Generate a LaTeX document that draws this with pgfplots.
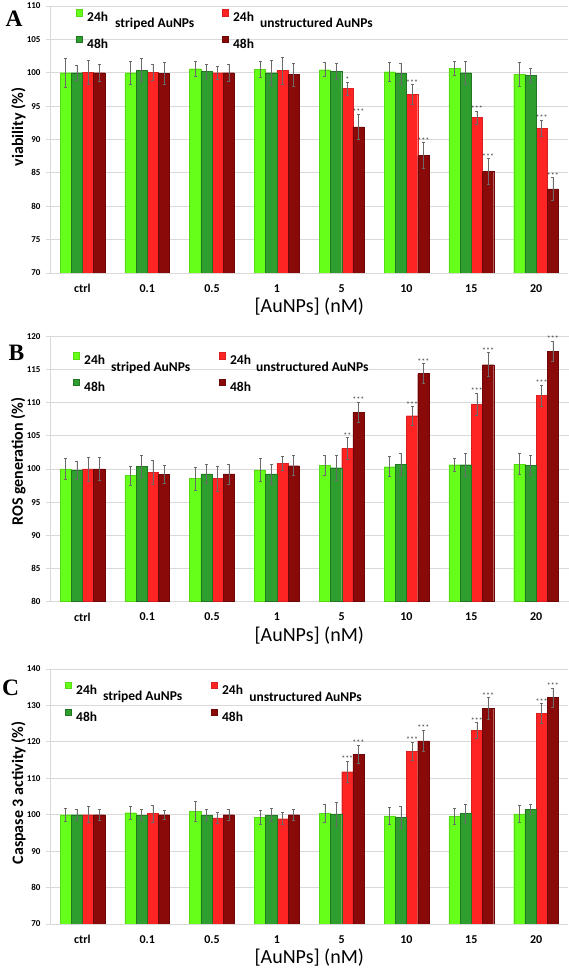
\documentclass[border=0pt]{standalone}
\usepackage{pgfplots}
\pgfplotsset{compat=1.18}
\usepackage{pgfplotstable}
\usepackage{fontspec}
\setmainfont{Carlito}
\newfontfamily\letterfont{Liberation Serif}
\definecolor{lg}{HTML}{66FF1A}
\definecolor{dg}{HTML}{2E9E2E}
\definecolor{rr}{HTML}{FF2424}
\definecolor{dr}{HTML}{8A0A0A}
\definecolor{gridc}{HTML}{D9D9D9}
\definecolor{errc}{HTML}{6A6A6A}
\definecolor{starc}{HTML}{404040}

% c: category; a: striped 24h; b: striped 48h; r: unstructured 24h; d: unstructured 48h
\pgfplotstableread{
c a ae b be r re d de
0 100.0 2.2 100.0 1.1 100.05 1.8 100.0 1.3
1 100.0 1.7 100.4 1.7 100.1 1.2 99.9 1.6
2 100.6 1.1 100.2 1.1 100.0 1.0 100.0 1.2
3 100.5 1.2 100.0 1.9 100.35 2.0 99.75 1.7
4 100.45 1.05 100.2 1.25 97.65 0.95 91.9 1.9
5 100.15 1.35 99.9 1.55 96.75 1.5 87.6 1.95
6 100.65 1.0 100.0 1.75 93.3 1.0 85.2 1.95
7 99.75 1.75 99.6 1.0 91.7 1.2 82.6 1.75
}\dataA
\pgfplotstableread{
c rt rs dt ds
4 98.6 * 93.8 ***
5 98.25 *** 89.55 ***
6 94.3 *** 87.15 ***
7 92.9 *** 84.35 ***
}\starsA

\pgfplotstableread{
c a ae b be r re d de
0 100.0 1.6 99.85 1.35 100.0 1.8 100.0 1.75
1 99.0 1.45 100.4 1.65 99.45 1.8 99.2 1.3
2 98.55 1.75 99.25 1.45 98.55 1.9 99.25 1.5
3 99.85 1.7 99.25 1.5 100.85 1.1 100.5 1.5
4 100.55 1.55 100.2 1.85 103.1 1.65 108.55 1.55
5 100.35 1.5 100.7 1.65 108.05 1.4 114.4 1.5
6 100.65 1.0 100.65 1.8 109.8 1.7 115.75 1.8
7 100.75 1.6 100.55 1.5 111.1 1.6 117.75 1.55
}\dataB
\pgfplotstableread{
c rt rs dt ds
4 104.75 ** 110.1 ***
5 109.45 *** 115.9 ***
6 111.5 *** 117.55 ***
7 112.7 *** 119.3 ***
}\starsB

\pgfplotstableread{
c a ae b be r re d de
0 100.0 1.75 100.0 1.5 100.0 2.2 100.0 1.5
1 100.55 1.85 99.9 1.5 100.3 2.3 100.0 1.3
2 100.9 2.75 99.9 1.55 99.1 1.45 100.0 1.45
3 99.2 1.9 99.9 1.75 98.9 1.65 100.0 1.45
4 100.35 2.4 100.2 3.3 111.8 3.0 116.65 2.5
5 99.7 2.3 99.35 3.1 117.45 2.55 120.3 2.95
6 99.7 2.2 100.35 2.4 123.15 2.2 129.2 3.0
7 100.2 2.4 101.45 1.45 127.8 2.75 132.2 2.65
}\dataC
\pgfplotstableread{
c rt rs dt ds
4 114.8 *** 119.15 ***
5 120.0 *** 123.25 ***
6 125.35 *** 132.2 ***
7 130.55 *** 134.85 ***
}\starsC

\tikzset{
  lbl/.style={anchor=west, inner sep=0pt, text height=9pt, text depth=0pt, font=\bfseries\fontsize{13.5}{15}\selectfont},
  letter/.style={anchor=center, inner sep=0pt, font=\letterfont\bfseries\fontsize{23.5}{24}\selectfont},
}
\pgfplotsset{
  sqleg/.style={legend image code/.code={\draw[##1] (0pt,1.2pt) rectangle (6.4pt,7.6pt);}},
  errbar/.style={
    /pgfplots/error bars/y dir=both,
    /pgfplots/error bars/y explicit,
    /pgfplots/error bars/error bar style={errc, line width=0.5pt},
    /pgfplots/error bars/error mark options={rotate=90, mark size=1.5pt, errc, line width=0.5pt}},
  bars/.style={ybar, bar width=11.2pt, bar shift=0pt, line width=0.3pt},
  starplot/.style={only marks, mark=none, forget plot,
    nodes near coords, point meta=explicit symbolic,
    every node near coord/.append style={anchor=south, font=\fontsize{8}{8}\selectfont, text=starc, inner sep=0pt, yshift=-1pt}},
  panel/.style={
    scale only axis, width=518.5pt, xmin=-0.5, xmax=7.5,
    xtick={0,...,7}, xticklabels={ctrl,0.1,0.5,1,5,10,15,20},
    axis lines*=left, axis line style={gridc, line width=0.8pt},
    ymajorgrids, grid style={gridc, line width=0.8pt},
    x tick style={draw=none},
    y tick style={gridc, line width=0.8pt},
    tick align=outside, major tick length=4pt,
    /pgf/number format/assume math mode=true,
    yticklabel style={font=\bfseries\fontsize{9}{10}\selectfont, xshift=-2pt},
    xticklabel style={font=\bfseries\fontsize{12}{14}\selectfont, yshift=-4pt},
    xlabel={[AuNPs] (nM)},
    x label style={at={(axis description cs:0.5,0)}, anchor=center, yshift=-34pt, font=\fontsize{20}{22}\selectfont},
    y label style={anchor=center, font=\bfseries\fontsize{16}{18}\selectfont},
    legend columns=2, legend cell align=left,
    legend style={anchor=north west, draw=none, fill=none, inner sep=0pt, outer sep=0pt,
      row sep=14.5pt,
      nodes={inner sep=0pt, text height=9pt, text depth=0pt, font=\bfseries\fontsize{13.5}{15}\selectfont},
      /tikz/every odd column/.append style={column sep=4.7pt},
      /tikz/every even column/.append style={column sep=113.6pt}},
  },
}
% bar offsets in category units: 16.8pt and 5.6pt of a 64.81pt category slot
\def\oa{-0.2592}\def\ob{-0.0864}\def\orr{0.0864}\def\od{0.2592}

\begin{document}
\begin{tikzpicture}
\useasboundingbox (0pt,0pt) rectangle (569pt,972pt);

% ---------- Panel A ----------
\begin{axis}[panel, at={(50pt,699pt)}, anchor=south west, height=267pt,
  ymin=70, ymax=110, ytick={70,75,...,110},
  ylabel={viability (\%)}, y label style={at={(axis description cs:-0.061,0.547)}},
  legend style={at={(axis description cs:0.0498,0.9875)}}]
\addplot[bars, fill=lg, draw=lg!85!black, sqleg, errbar] table[x expr=\thisrow{c}+\oa, y=a, y error=ae]{\dataA};
\addplot[bars, fill=rr, draw=rr!85!black, sqleg, errbar] table[x expr=\thisrow{c}+\orr, y=r, y error=re]{\dataA};
\addplot[bars, fill=dg, draw=dg!75!black, sqleg, errbar] table[x expr=\thisrow{c}+\ob, y=b, y error=be]{\dataA};
\addplot[bars, fill=dr, draw=dr!80!black, sqleg, errbar] table[x expr=\thisrow{c}+\od, y=d, y error=de]{\dataA};
\addplot[starplot] table[x expr=\thisrow{c}+\orr, y=rt, meta=rs]{\starsA};
\addplot[starplot] table[x expr=\thisrow{c}+\od, y=dt, meta=ds]{\starsA};
\legend{24h,24h,48h,48h}
\node[lbl] at (axis description cs:0.1254,0.937) {striped AuNPs};
\node[lbl] at (axis description cs:0.405,0.9345) {unstructured AuNPs};
\end{axis}

% ---------- Panel B ----------
\begin{axis}[panel, at={(50pt,370.5pt)}, anchor=south west, height=265pt,
  ymin=80, ymax=120, ytick={80,85,...,120},
  ylabel={ROS generation (\%)}, y label style={at={(axis description cs:-0.061,0.528)}},
  legend style={at={(axis description cs:0.044,0.941)}}]
\addplot[bars, fill=lg, draw=lg!85!black, sqleg, errbar] table[x expr=\thisrow{c}+\oa, y=a, y error=ae]{\dataB};
\addplot[bars, fill=rr, draw=rr!85!black, sqleg, errbar] table[x expr=\thisrow{c}+\orr, y=r, y error=re]{\dataB};
\addplot[bars, fill=dg, draw=dg!75!black, sqleg, errbar] table[x expr=\thisrow{c}+\ob, y=b, y error=be]{\dataB};
\addplot[bars, fill=dr, draw=dr!80!black, sqleg, errbar] table[x expr=\thisrow{c}+\od, y=d, y error=de]{\dataB};
\addplot[starplot] table[x expr=\thisrow{c}+\orr, y=rt, meta=rs]{\starsB};
\addplot[starplot] table[x expr=\thisrow{c}+\od, y=dt, meta=ds]{\starsB};
\legend{24h,24h,48h,48h}
\node[lbl] at (axis description cs:0.1176,0.886) {striped AuNPs};
\node[lbl] at (axis description cs:0.397,0.884) {unstructured AuNPs};
\end{axis}

% ---------- Panel C ----------
\begin{axis}[panel, at={(50pt,48pt)}, anchor=south west, height=255pt,
  ymin=70, ymax=140, ytick={70,80,...,140},
  ylabel={Caspase 3 activity (\%)}, y label style={at={(axis description cs:-0.061,0.514)}},
  legend style={at={(axis description cs:0.0285,0.9488)}}]
\addplot[bars, fill=lg, draw=lg!85!black, sqleg, errbar] table[x expr=\thisrow{c}+\oa, y=a, y error=ae]{\dataC};
\addplot[bars, fill=rr, draw=rr!85!black, sqleg, errbar] table[x expr=\thisrow{c}+\orr, y=r, y error=re]{\dataC};
\addplot[bars, fill=dg, draw=dg!75!black, sqleg, errbar] table[x expr=\thisrow{c}+\ob, y=b, y error=be]{\dataC};
\addplot[bars, fill=dr, draw=dr!80!black, sqleg, errbar] table[x expr=\thisrow{c}+\od, y=d, y error=de]{\dataC};
\addplot[starplot] table[x expr=\thisrow{c}+\orr, y=rt, meta=rs]{\starsC};
\addplot[starplot] table[x expr=\thisrow{c}+\od, y=dt, meta=ds]{\starsC};
\legend{24h,24h,48h,48h}
\node[lbl] at (axis description cs:0.102,0.894) {striped AuNPs};
\node[lbl] at (axis description cs:0.384,0.891) {unstructured AuNPs};
\end{axis}

% panel letters
\node[letter] at (14pt,953pt) {A};
\node[letter] at (16.5pt,619pt) {B};
\node[letter] at (10.6pt,284.5pt) {C};
\end{tikzpicture}
\end{document}
